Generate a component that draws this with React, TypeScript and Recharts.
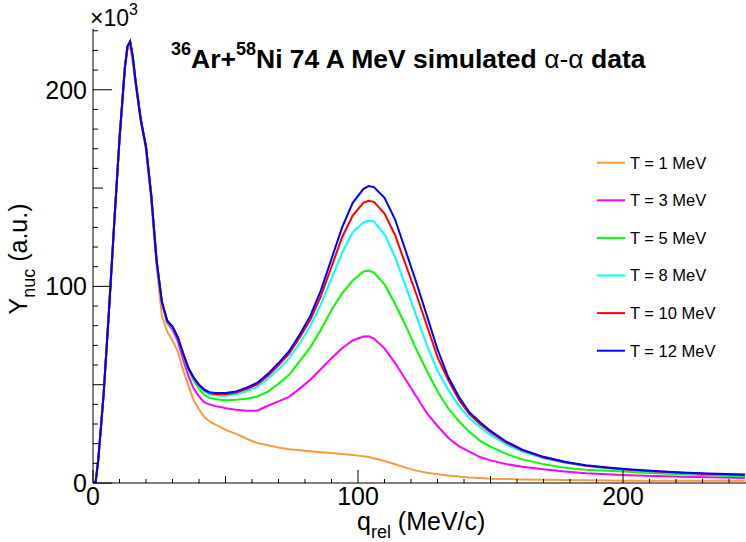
import { LineChart, Line, XAxis, YAxis } from "recharts";

// q_rel (MeV/c) sample points
const qRel = [
  0, 1, 2, 4, 6, 8, 10, 12, 13, 14, 15, 16, 18, 20, 22, 24, 26, 28, 30, 32, 34, 36, 38, 40, 42, 44, 46, 48, 50,
  54, 58, 62, 66, 70, 74, 78, 82, 86, 90, 94, 98, 102, 104, 106, 110, 114, 118, 122, 126, 130, 134, 138,
  142, 146, 150, 156, 162, 170, 178, 186, 194, 202, 212, 222, 232, 242, 246,
];

// Y_nuc (x10^3) per temperature
const yT1 = [
  0, 0.5, 12, 45, 87, 132, 174, 210, 220, 222, 214, 203, 184, 169, 143, 110, 85, 77, 72.5, 67, 57.5, 49.5, 42, 37.5, 33.5, 31.3, 29.8, 28.5, 27,
  25, 22.5, 20.3, 19.2, 18, 17.2, 16.6, 16.1, 15.6, 15.2, 14.8, 14.3, 13.6, 13.2, 12.6, 11.2, 9.5, 7.8, 6.3, 5.2, 4.5, 3.8, 3.3,
  2.8, 2.5, 2.2, 2, 1.8, 1.6, 1.5, 1.4, 1.3, 1.2, 1.2, 1.1, 1.1, 1.1, 1.1,
];
const yT3 = [
  0, 0.5, 12, 45, 87, 132, 175, 211, 222, 224.5, 217, 205, 185, 171, 146, 113, 91.5, 81.5, 78, 72, 63, 54.5, 48, 44, 41, 40, 39.2, 38.7, 38,
  37.3, 36.8, 36.8, 39.3, 41.5, 43.8, 48, 52.5, 58, 63.5, 68.5, 72.5, 74.5, 74.6, 73.5, 68.5, 61, 52.5, 44, 35.5, 29, 23, 18.8,
  16, 13.2, 11.5, 9.6, 8.3, 7, 5.9, 5, 4.4, 4, 3.5, 3.2, 2.9, 2.7, 2.6,
];
const yT5 = [
  0, 0.5, 12, 45, 87, 132, 175, 211, 222, 224.5, 217, 205, 185, 171, 146, 113, 92, 82, 79, 73.5, 65.3, 57.5, 52, 48, 44.8, 43.3, 42.7, 42.3, 42.1,
  42.3, 42.8, 44, 46.5, 50.5, 55, 62, 69, 78, 88, 96.5, 103, 107.5, 108, 107, 101, 91, 80, 68, 57, 46.5, 38, 31.5,
  26, 21.5, 18.5, 14.8, 12, 9.6, 7.8, 6.8, 6.2, 5.7, 5, 4.4, 3.9, 3.5, 3.4,
];
const yT8 = [
  0, 0.5, 12, 45, 87, 132, 175, 211, 222, 224.5, 217, 205, 185, 171, 146, 113, 92, 82.5, 79.5, 74, 66, 58.5, 53, 49.3, 46.7, 45, 44.6, 44.4, 44.4,
  45.1, 46.6, 48.9, 53, 57.8, 63.5, 71, 80, 91, 104, 117, 127.5, 132.5, 133.5, 133, 126.5, 115, 100, 85, 70, 57, 47.5, 39.5,
  33, 28.5, 24.5, 19.5, 16, 12.6, 10.3, 8.6, 7.5, 6.6, 5.7, 5, 4.4, 4, 3.9,
];
const yT10 = [
  0, 0.5, 12, 45, 87, 132, 175, 211, 222, 224.5, 217, 205, 185, 171, 146, 113, 92, 82.5, 79.5, 74, 66, 58.5, 53.5, 49.7, 47.2, 45.8, 45.3, 45.2, 45.2,
  46, 47.8, 50.2, 54.5, 59.8, 65.8, 74, 83, 95, 110, 125, 136, 142.5, 143.5, 143, 137, 126, 111, 96, 80, 64, 52.5, 42.5,
  35, 30, 25.8, 20.5, 16.6, 13, 10.6, 8.8, 7.7, 6.8, 5.9, 5.2, 4.6, 4.2, 4.1,
];
const yT12 = [
  0, 0.5, 12, 45, 87, 132, 175, 211, 222, 224.5, 217, 205, 185, 171, 146, 113, 92, 82.5, 79.5, 74, 66, 58.5, 53.5, 50, 47.5, 46.2, 45.8, 45.8, 45.8,
  46.6, 48.5, 51, 55.5, 61, 67, 75.5, 85, 98, 114, 130, 142.5, 149.5, 151, 150.5, 145, 134, 118, 102, 85, 68, 54, 44,
  36, 31, 26.5, 21, 17, 13.3, 10.8, 9, 7.9, 7, 6.1, 5.4, 4.8, 4.4, 4.3,
];

const seriesDefs = [
  { key: "t1", label: "T = 1 MeV", color: "#f99a3c", values: yT1 },
  { key: "t3", label: "T = 3 MeV", color: "#ff00ff", values: yT3 },
  { key: "t5", label: "T = 5 MeV", color: "#00ff00", values: yT5 },
  { key: "t8", label: "T = 8 MeV", color: "#00ffff", values: yT8 },
  { key: "t10", label: "T = 10 MeV", color: "#ff0000", values: yT10 },
  { key: "t12", label: "T = 12 MeV", color: "#0000ff", values: yT12 },
];

const xTicks = [0, 10, 20, 30, 40, 50, 60, 70, 80, 90, 100, 110, 120, 130, 140, 150, 160, 170, 180, 190, 200, 210, 220, 230, 240];
const yTicks = [0, 10, 20, 30, 40, 50, 60, 70, 80, 90, 100, 110, 120, 130, 140, 150, 160, 170, 180, 190, 200, 210, 220, 230];

const FONT = "'Liberation Sans', Arial, sans-serif";

const data = qRel.map((q, i) => {
  const row: Record<string, number> = { q };
  seriesDefs.forEach((s) => {
    row[s.key] = s.values[i];
  });
  return row;
});

function XTick(props: any) {
  const { x, y, payload } = props;
  const v = payload.value;
  const len = v % 100 === 0 ? 13 : v % 50 === 0 ? 7 : 4;
  return (
    <g>
      <line x1={x} y1={y} x2={x} y2={y - len} stroke="#000" strokeWidth={1} />
      {v % 100 === 0 && (
        <text x={x} y={y + 22} textAnchor="middle" fontSize={25} fontFamily={FONT} fill="#000">
          {v}
        </text>
      )}
    </g>
  );
}

function YTick(props: any) {
  const { x, y, payload } = props;
  const v = payload.value;
  const len = v % 100 === 0 ? 19 : v % 50 === 0 ? 10 : 5;
  return (
    <g>
      <line x1={x} y1={y} x2={x + len} y2={y} stroke="#000" strokeWidth={1} />
      {v % 100 === 0 && (
        <text x={x - 6} y={y + 9} textAnchor="end" fontSize={25} fontFamily={FONT} fill="#000">
          {v}
        </text>
      )}
    </g>
  );
}

export default function App() {
  return (
    <div style={{ position: "absolute", left: 0, top: 0, width: 746, height: 542, background: "#fff" }}>
      <LineChart width={746} height={542} data={data} margin={{ top: 29, right: 0, left: 0, bottom: 0 }}>
        <XAxis
          xAxisId="top"
          orientation="top"
          type="number"
          dataKey="q"
          domain={[0, 246.4]}
          height={0}
          tick={false}
          tickLine={false}
          axisLine={{ stroke: "#000", strokeWidth: 1 }}
        />
        <XAxis
          type="number"
          dataKey="q"
          domain={[0, 246.4]}
          allowDataOverflow
          ticks={xTicks}
          interval={0}
          height={59}
          tickSize={0}
          tickMargin={0}
          tickLine={false}
          axisLine={{ stroke: "#000", strokeWidth: 1 }}
          tick={<XTick />}
        />
        <YAxis
          type="number"
          domain={[0, 230.9]}
          allowDataOverflow
          ticks={yTicks}
          interval={0}
          width={93}
          tickSize={0}
          tickMargin={0}
          tickLine={false}
          axisLine={{ stroke: "#000", strokeWidth: 1 }}
          tick={<YTick />}
        />
        {seriesDefs.map((s) => (
          <Line
            key={s.key}
            type="linear"
            dataKey={s.key}
            stroke={s.color}
            strokeWidth={2}
            dot={false}
            isAnimationActive={false}
          />
        ))}
      </LineChart>
      <svg
        width={746}
        height={542}
        style={{ position: "absolute", left: 0, top: 0, pointerEvents: "none" }}
        fontFamily={FONT}
      >
        <text x={90} y={26} fontSize={23} fill="#000">
          ×10
          <tspan fontSize={16} dy={-11}>3</tspan>
        </text>
        <text x={171} y={68} fontSize={26.5} fontWeight="bold" fill="#000">
          <tspan fontSize={18} dy={-13}>36</tspan>
          <tspan dy={13}>Ar+</tspan>
          <tspan fontSize={18} dy={-13}>58</tspan>
          <tspan dy={13}>Ni 74 A MeV simulated </tspan>
          <tspan fontWeight="normal">α-α</tspan>
          <tspan> data</tspan>
        </text>
        <text x={357} y={530} fontSize={25} fill="#000">
          q
          <tspan fontSize={18} dy={8}>rel</tspan>
          <tspan dy={-8}> (MeV/c)</tspan>
        </text>
        <text x={27} y={259} fontSize={25} fill="#000" textAnchor="middle" transform="rotate(-90, 27, 259)">
          Y
          <tspan fontSize={18} dy={8}>nuc</tspan>
          <tspan dy={-8}> (a.u.)</tspan>
        </text>
        {seriesDefs.map((s, i) => (
          <g key={s.key}>
            <line x1={597} x2={625} y1={162.7 + i * 37.6} y2={162.7 + i * 37.6} stroke={s.color} strokeWidth={2} />
            <text x={630} y={168.5 + i * 37.6} fontSize={16.5} fill="#000">
              {s.label}
            </text>
          </g>
        ))}
      </svg>
    </div>
  );
}
